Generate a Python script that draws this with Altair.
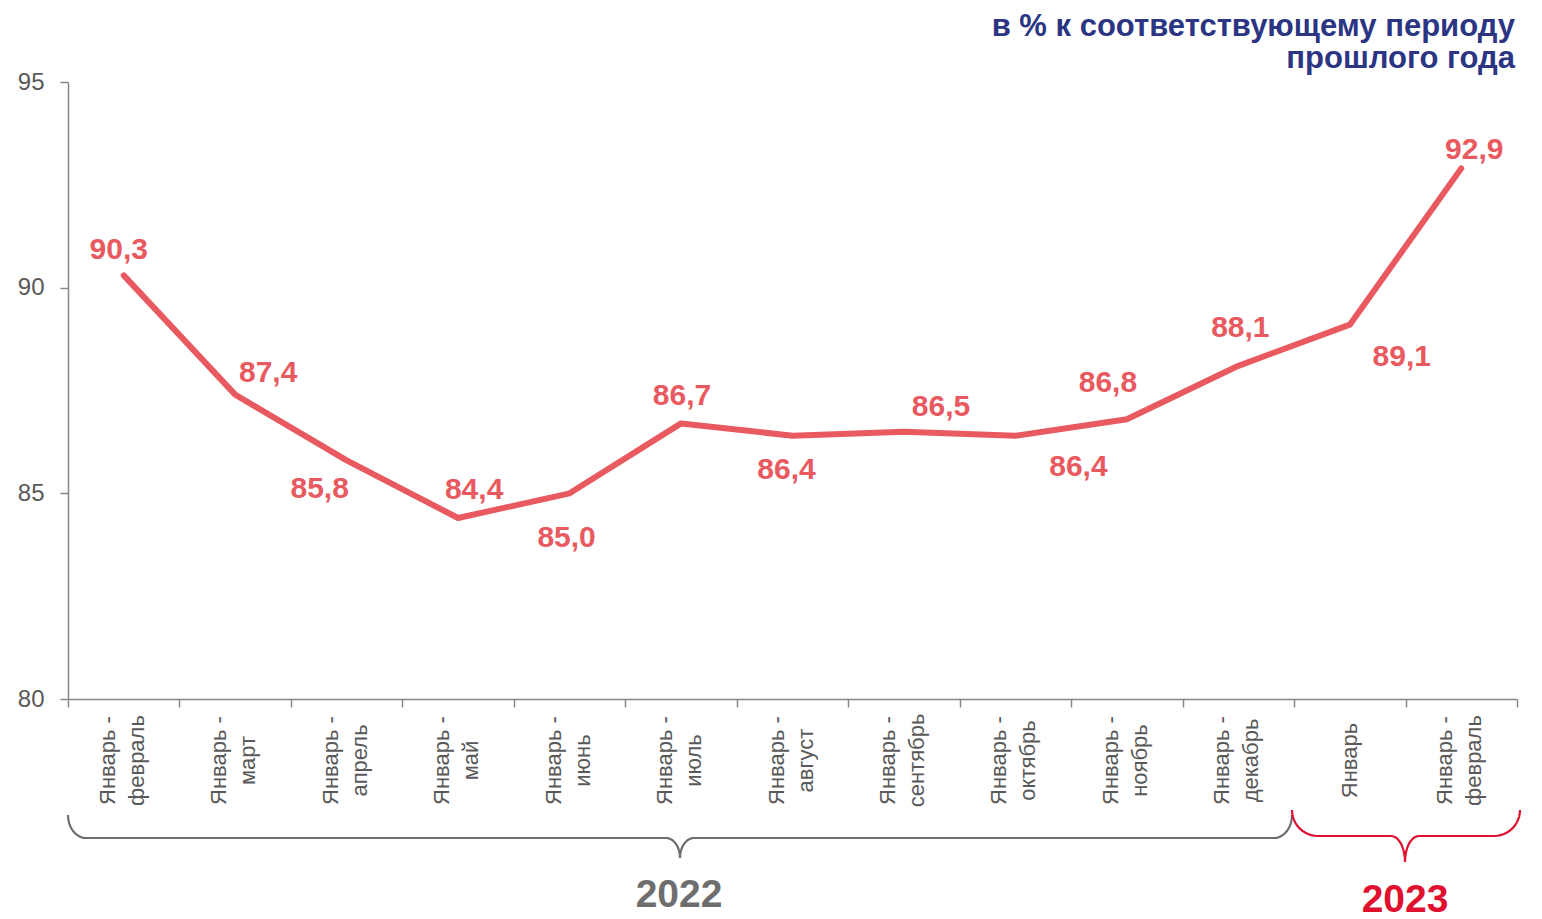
import math
import altair as alt
import pandas as pd

# ---- data ----
periods = ["Январь - февраль", "Январь - март", "Январь - апрель", "Январь - май",
           "Январь - июнь", "Январь - июль", "Январь - август", "Январь - сентябрь",
           "Январь - октябрь", "Январь - ноябрь", "Январь - декабрь", "Январь",
           "Январь - февраль"]
years = ["2022"] * 11 + ["2023"] * 2
values = [90.3, 87.4, 85.8, 84.4, 85.0, 86.7, 86.4, 86.5, 86.4, 86.8, 88.1, 89.1, 92.9]
y_ticks = [80, 85, 90, 95]
title_lines = ["в % к соответствующему периоду", "прошлого года"]

# label offsets (px) – placement of value labels
label_dx = [-5, 33, -27, 16, -3, 1, -6, 37, 63, -19, 2, 52, 13]
label_dy = [-25, -22, 29, -28, 45, -27, 34, -25, 31, -36, -38, 32, -18]

# ---- layout ----
W, H = 1449, 617
PAD = {"left": 60, "top": 74, "right": 15, "bottom": 222}
YMIN, YMAX = 80, 95
N = len(periods)
band = W / N

LINE_COLOR = "#E85A5F"
GREY = "#6E6E6E"
RED = "#E0102F"
FONT = "Liberation Sans"

keys = [f"{p}|{y}|{i}" for i, (p, y) in enumerate(zip(periods, years))]
df = pd.DataFrame({"key": keys, "v": values, "i": list(range(N))})
df["lab"] = [f"{v:.1f}".replace(".", ",") for v in values]


def px_x(px):  # page px -> brace x units
    return (px - (8 + PAD["left"])) / band


def px_y(py):  # page px -> y units
    return YMIN - (py - (8 + PAD["top"] + H)) * (YMAX - YMIN) / H


def brace(x0, x1, xm, y_end, y_mid, y_tip, r_end, r_tip, n=12):
    pts = []
    ry_end = y_mid - y_end
    ry_tip = y_tip - y_mid
    for k in range(n + 1):
        t = k / n * math.pi / 2
        pts.append((x0 + r_end - r_end * math.cos(t), y_end + ry_end * math.sin(t)))
    for k in range(n + 1):
        t = k / n * math.pi / 2
        pts.append((xm - r_tip + r_tip * math.sin(t), y_tip - ry_tip * math.cos(t)))
    for k in range(n + 1):
        t = k / n * math.pi / 2
        pts.append((xm + r_tip - r_tip * math.cos(t), y_tip - ry_tip * math.sin(t)))
    for k in range(n + 1):
        t = k / n * math.pi / 2
        pts.append((x1 - r_end + r_end * math.sin(t), y_mid - ry_end * (1 - math.cos(t))))
    return pd.DataFrame({"bx": [px_x(p[0]) for p in pts],
                         "by": [px_y(p[1]) for p in pts],
                         "o": list(range(len(pts)))})


yscale = alt.Scale(domain=[YMIN, YMAX], nice=False, zero=False)
xband = alt.Scale(type="band", paddingInner=0, paddingOuter=0)
bx_scale = alt.Scale(domain=[0, N], nice=False, zero=False)

LH = 29
label_expr = ("split(split(datum.label,'|')[0],' - ').length > 1 ? "
              "[split(split(datum.label,'|')[0],' - ')[0] + ' -', "
              "split(split(datum.label,'|')[0],' - ')[1]] : split(datum.label,'|')[0]")

x_axis = alt.Axis(title=None, labelAngle=-90, labelExpr=label_expr,
                  tickBand="extent", tickSize=8, tickColor="#888888",
                  domainColor="#888888", domainWidth=1.5, tickWidth=1.5,
                  labelColor="#595959", labelFontSize=22, labelFont=FONT,
                  labelPadding=53, labelLineHeight=LH, labelAlign="center",
                  labelBaseline="middle", labelLimit=0, grid=False,
                  labelOffset={"expr": f"indexof(datum.label, ' - ') > 0 ? {-LH / 2 - 2} : 0"})
y_axis = alt.Axis(title=None, values=y_ticks, tickSize=8, tickColor="#888888",
                  domainColor="#888888", domainWidth=1.5, tickWidth=1.5,
                  labelColor="#595959", labelFontSize=24, labelFont=FONT,
                  labelPadding=16, grid=False)

x_enc = alt.X("key:N", sort=keys, scale=xband, bandPosition=0.5, axis=x_axis)
y_enc = alt.Y("v:Q", scale=yscale, axis=y_axis)

line = alt.Chart(df).mark_line(color=LINE_COLOR, strokeWidth=6, strokeCap="round",
                               strokeJoin="round").encode(x=x_enc, y=y_enc)

label_layers = []
for i in range(N):
    label_layers.append(
        alt.Chart(df).transform_filter(alt.datum.i == i).mark_text(
            color=LINE_COLOR, fontSize=30, fontWeight="bold", font=FONT,
            dx=label_dx[i], dy=label_dy[i]
        ).encode(x=alt.X("key:N", sort=keys, scale=xband, bandPosition=0.5, axis=x_axis),
                 y=alt.Y("v:Q", scale=yscale, axis=y_axis), text="lab:N")
    )

grey_brace = brace(68, 1292, 680, 815, 838, 858, 18, 14)
red_brace = brace(1292, 1520, 1405, 810, 836, 862, 26, 14)


def brace_chart(d, color):
    return alt.Chart(d).mark_line(color=color, strokeWidth=2.2, clip=False).encode(
        x=alt.X("bx:Q", scale=bx_scale, axis=None),
        y=alt.Y("by:Q", scale=yscale, axis=y_axis),
        order="o:Q")


year_df = pd.DataFrame({"yr": ["2022", "2023"],
                        "bx": [px_x(679), px_x(1405)],
                        "by": [px_y(907), px_y(912)],
                        "c": [GREY, RED]})
years_txt = alt.Chart(year_df).mark_text(fontSize=39, fontWeight="bold", font=FONT,
                                         baseline="alphabetic", clip=False).encode(
    x=alt.X("bx:Q", scale=bx_scale, axis=None),
    y=alt.Y("by:Q", scale=yscale, axis=y_axis),
    text="yr:N",
    color=alt.Color("c:N", scale=None))

main = alt.layer(line, *label_layers)
deco = alt.layer(brace_chart(grey_brace, GREY), brace_chart(red_brace, RED), years_txt)

chart = alt.layer(main, deco).resolve_scale(x="independent").properties(
    width=W, height=H,
    padding=PAD,
    background="white",
    autosize=alt.AutoSizeParams(type="none"),
    title=alt.TitleParams(text=title_lines, anchor="end", fontSize=31, fontWeight="bold",
                          color="#2B3583", font=FONT, offset=-5, lineHeight=32,
                          frame="group", dx=-2),
).configure_view(strokeWidth=0, stroke="transparent")

chart.save("out.html", embed_options={"renderer": "svg", "actions": False})
